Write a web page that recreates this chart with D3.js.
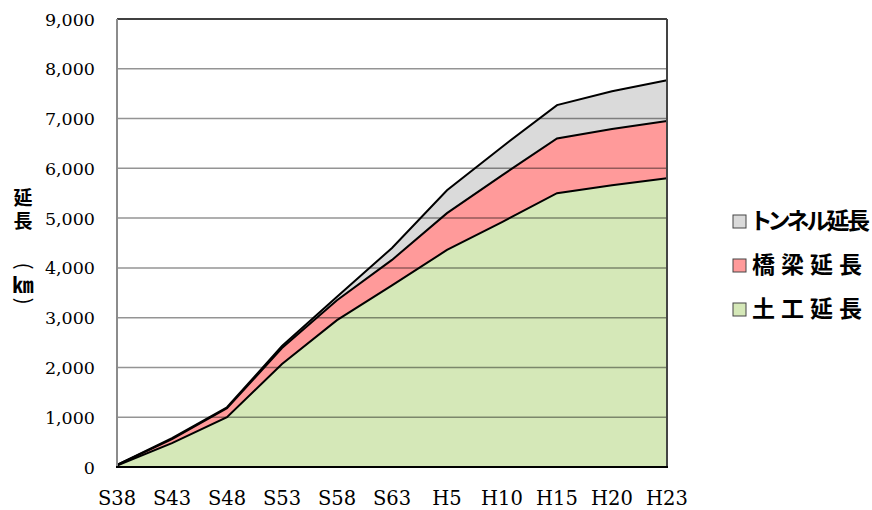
<!DOCTYPE html>
<html><head><meta charset="utf-8">
<script src="https://cdn.jsdelivr.net/npm/d3@7"></script>
<style>body{margin:0;background:#fff}svg{display:block}</style>
</head><body>
<svg id="c" width="872" height="510"></svg>
<script>
const categories = ["S38","S43","S48","S53","S58","S63","H5","H10","H15","H20","H23"];
const earthworks = [30, 480, 1000, 2070, 2950, 3650, 4360, 4920, 5500, 5660, 5800];
const bridges    = [10, 80, 180, 320, 400, 510, 740, 940, 1100, 1130, 1150];
const tunnels    = [0, 20, 20, 40, 70, 240, 460, 570, 670, 760, 820];
const yTicks = [0,1000,2000,3000,4000,5000,6000,7000,8000,9000];
const seriesNames = ["土工延長","橋梁延長","トンネル延長"];
const colors = ["#d5e8b8","#ff9a9a","#dadada"];

const svg = d3.select("#c");
const L=117,R=667,T=19,B=467;
const x = d3.scalePoint().domain(categories).range([L,R]);
const y = d3.scaleLinear().domain([0,9000]).range([B,T]);

const rows = categories.map((c,i)=>({c, e:earthworks[i], b:bridges[i], t:tunnels[i]}));
const stack = d3.stack().keys(["e","b","t"])(rows);

const area = d3.area().x((d,i)=>x(categories[i])).y0(d=>y(d[0])).y1(d=>y(d[1]));
svg.append("g").selectAll("path").data(stack).join("path")
  .attr("d",area).attr("fill",(d,i)=>colors[i]);

// gridlines (visible through fills)
svg.append("g").selectAll("line").data(yTicks.slice(1,-1)).join("line")
  .attr("x1",L).attr("x2",R).attr("y1",d=>y(d)).attr("y2",d=>y(d))
  .attr("stroke","#000").attr("stroke-opacity",0.42).attr("stroke-width",1.5);

const line = d3.line().x((d,i)=>x(categories[i])).y(d=>y(d[1]));
svg.append("g").selectAll("path").data(stack).join("path")
  .attr("d",line).attr("fill","none").attr("stroke","#000").attr("stroke-width",2);

// frame
svg.append("line").attr("x1",L).attr("x2",R).attr("y1",T).attr("y2",T).attr("stroke","#000").attr("stroke-width",1.5);
svg.append("line").attr("x1",R).attr("x2",R).attr("y1",T).attr("y2",B).attr("stroke","#444").attr("stroke-width",2);
svg.append("line").attr("x1",L).attr("x2",L).attr("y1",T).attr("y2",B).attr("stroke","#8c8c8c").attr("stroke-width",2);
svg.append("line").attr("x1",L-1).attr("x2",R+1).attr("y1",B).attr("y2",B).attr("stroke","#000").attr("stroke-width",2);

const sf = "DejaVu Serif, serif";
// y tick labels
svg.append("g").selectAll("text").data(yTicks).join("text")
  .attr("x",95).attr("y",d=>y(d)+6.5).attr("text-anchor","end")
  .attr("font-family",sf).attr("font-size",17.5)
  .text(d=>d3.format(",")(d));
// x tick labels
svg.append("g").selectAll("text").data(categories).join("text")
  .attr("x",d=>x(d)).attr("y",505).attr("text-anchor","middle")
  .attr("font-family",sf).attr("font-size",19.5)
  .text(d=>d);

// y axis title (vertical)
const tf = "Noto Sans CJK JP, sans-serif";
svg.append("text").attr("x",23).attr("y",188)
  .style("writing-mode","vertical-rl").attr("letter-spacing",4)
  .attr("font-family",tf).attr("font-weight","bold").attr("font-size",19).text("延長");
svg.append("text").attr("transform","translate(23,266) rotate(90)").attr("text-anchor","middle").attr("dy","0.32em").attr("font-family",tf).attr("font-size",20).text("(");
svg.append("text").attr("x",23).attr("y",292).attr("text-anchor","middle").attr("font-family",tf).attr("font-weight","bold").attr("font-size",21).text("㎞");
svg.append("text").attr("transform","translate(23,301) rotate(90)").attr("text-anchor","middle").attr("dy","0.32em").attr("font-family",tf).attr("font-size",20).text(")");

// legend
const leg = [2,1,0];
const widths = {2:118, 1:110, 0:110};
const lg = svg.append("g").selectAll("g").data(leg).join("g")
  .attr("transform",(d,i)=>`translate(733,${215+i*44})`);
lg.append("rect").attr("width",13).attr("height",13).attr("fill",d=>colors[d]).attr("stroke","#444").attr("stroke-width",1);
lg.append("text").attr("x",19).attr("y",14).attr("font-family",tf).attr("font-weight","bold").attr("font-size",23)
  .style("font-feature-settings","'palt'")
  .attr("textLength",d=>widths[d]).attr("lengthAdjust","spacing")
  .text(d=>seriesNames[d]);
</script>
</body></html>
